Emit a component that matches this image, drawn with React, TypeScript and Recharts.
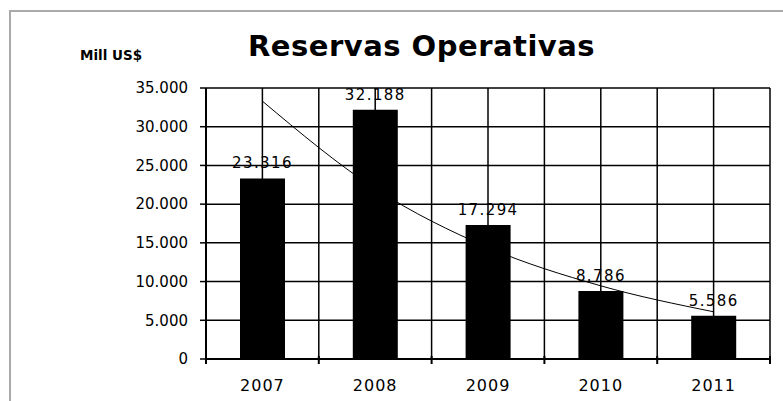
import { ComposedChart, Bar, Line, XAxis, YAxis, CartesianGrid, LabelList } from "recharts";

const years = ["2007", "2008", "2009", "2010", "2011"];
const reservas = [23316, 32188, 17294, 8786, 5586];
// exponential trend line at each year
const tendencia = [33300, 22000, 14400, 9450, 6100];
const yTicks = [0, 5000, 10000, 15000, 20000, 25000, 30000, 35000];

const data = years.map((year, i) => ({ pos: i + 0.5, year, value: reservas[i], trend: tendencia[i] }));
// half steps: category borders and centers, both get a grid line
const xTicks = Array.from({ length: years.length * 2 + 1 }, (_, i) => i / 2);

const FONT = "'DejaVu Sans', sans-serif";
const LABEL_GAP = 21;

const fmt = (v: number) => String(v).replace(/\B(?=(\d{3})+(?!\d))/g, ".");

// borders get a small tick mark, centers get the year
function XTick({ x, y, payload }: any) {
  const v = payload.value;
  const axisY = y - LABEL_GAP;
  if (Number.isInteger(v)) {
    return <line x1={x} x2={x} y1={axisY - 3} y2={axisY + 5} stroke="#000" strokeWidth={2} />;
  }
  return (
    <text x={x} y={y} dy="0.71em" textAnchor="middle" fill="#000" fontSize={16} fontFamily={FONT} style={{ letterSpacing: 1 }}>
      {years[Math.floor(v)]}
    </text>
  );
}

export default function App() {
  return (
    <div style={{ position: "relative", width: 783, height: 401, overflow: "hidden", background: "#fff" }}>
      <style>{`
        body { margin: 0; }
        .recharts-yAxis .recharts-cartesian-axis-tick-value { letter-spacing: 1.5px; }
        .recharts-label-list text { letter-spacing: 1.4px; }
      `}</style>
      <div
        style={{
          position: "absolute",
          left: 9,
          top: 10,
          width: 800,
          height: 420,
          borderTop: "2px solid #aaa",
          borderLeft: "2px solid #aaa",
        }}
      />
      <div
        style={{
          position: "absolute",
          left: 248,
          top: 32,
          fontFamily: FONT,
          fontWeight: "bold",
          fontSize: 29,
          lineHeight: 1,
          letterSpacing: 0.5,
          whiteSpace: "nowrap",
        }}
      >
        Reservas Operativas
      </div>
      <div
        style={{
          position: "absolute",
          left: 80,
          top: 48.5,
          fontFamily: FONT,
          fontWeight: "bold",
          fontSize: 13.5,
          lineHeight: 1,
          whiteSpace: "nowrap",
        }}
      >
        Mill US$
      </div>
      <ComposedChart
        width={783}
        height={401}
        data={data}
        margin={{ top: 88, right: 13, bottom: 12, left: 0 }}
        style={{ position: "absolute", left: 0, top: 0 }}
      >
        <CartesianGrid stroke="#000" strokeWidth={1.5} />
        <XAxis
          type="number"
          dataKey="pos"
          domain={[0, years.length]}
          ticks={xTicks}
          interval={0}
          height={30}
          tickSize={0}
          tickMargin={LABEL_GAP}
          tickLine={false}
          tick={<XTick />}
          axisLine={{ stroke: "#000", strokeWidth: 2 }}
        />
        <YAxis
          domain={[0, 35000]}
          ticks={yTicks}
          width={206}
          tickSize={6}
          tickMargin={12}
          tickFormatter={fmt}
          tick={{ fill: "#000", fontSize: 15, fontFamily: FONT }}
          tickLine={{ stroke: "#000", strokeWidth: 1.5 }}
          axisLine={{ stroke: "#000", strokeWidth: 2 }}
        />
        <Bar dataKey="value" fill="#000" barSize={45} isAnimationActive={false}>
          <LabelList
            dataKey="value"
            position="top"
            offset={10}
            formatter={fmt}
            fill="#000"
            fontSize={15}
            fontFamily={FONT}
          />
        </Bar>
        <Line
          dataKey="trend"
          type="monotone"
          stroke="#000"
          strokeWidth={1}
          dot={false}
          activeDot={false}
          isAnimationActive={false}
        />
      </ComposedChart>
    </div>
  );
}
